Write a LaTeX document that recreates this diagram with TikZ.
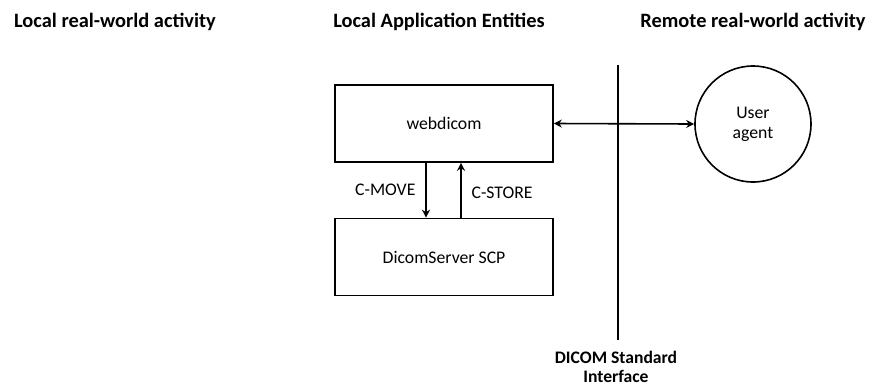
\documentclass[tikz,border=0pt]{standalone}
\usepackage{fontspec}
\setmainfont{Carlito}
\usetikzlibrary{arrows.meta}
\begin{document}
\begin{tikzpicture}[
    x=0.75pt,
    y=-0.75pt,
    line width=1.2pt,
    box/.style={
      draw,
      minimum width=218*0.75pt,
      minimum height=77*0.75pt,
      font=\fontsize{13.3}{15}\selectfont
    },
    title/.style={
      font=\bfseries\fontsize{15.3}{18}\selectfont
    },
    lbl/.style={
      font=\fontsize{13.3}{15}\selectfont
    },
    flow/.style={
      -{Stealth[length=6pt,width=6pt]}
    },
    both/.style={
      {Stealth[length=6pt,width=6pt]}-{Stealth[length=6pt,width=6pt]}
    }
  ]
    \useasboundingbox (0, 0) rectangle (872, 387);

    \node[title] (tlocal) at (115, 22) {Local real-world activity};
    \node[title] (tae) at (439, 22) {Local Application Entities};
    \node[title] (tremote) at (753, 22) {Remote real-world activity};

    \node[box] (web) at (444, 123.5) {webdicom};
    \node[box] (scp) at (444, 257) {DicomServer SCP};
    \node[draw, circle, minimum size=116*0.75pt, align=center,
      font=\fontsize{13.3}{15}\selectfont] (agent) at (753, 124) {User\\agent};

    \coordinate (ltop) at (618, 65);
    \coordinate (lbot) at (618, 340);
    \node[align=center, inner sep=0pt,
      font=\bfseries\fontsize{13.2}{14.5}\selectfont] (iface) at (616, 367)
      {DICOM Standard\\Interface};

    \draw (ltop) to (lbot);
    \draw[flow] ([xshift=-18*0.75pt]web.south) to
      node[lbl, left=4pt] {C-MOVE} ([xshift=-18*0.75pt]scp.north);
    \draw[flow] ([xshift=17*0.75pt]scp.north) to
      node[lbl, right=4pt, yshift=-2pt] {C-STORE} ([xshift=17*0.75pt]web.south);
    \draw[both] (web.east) to (agent.west);
  \end{tikzpicture}
\end{document}
